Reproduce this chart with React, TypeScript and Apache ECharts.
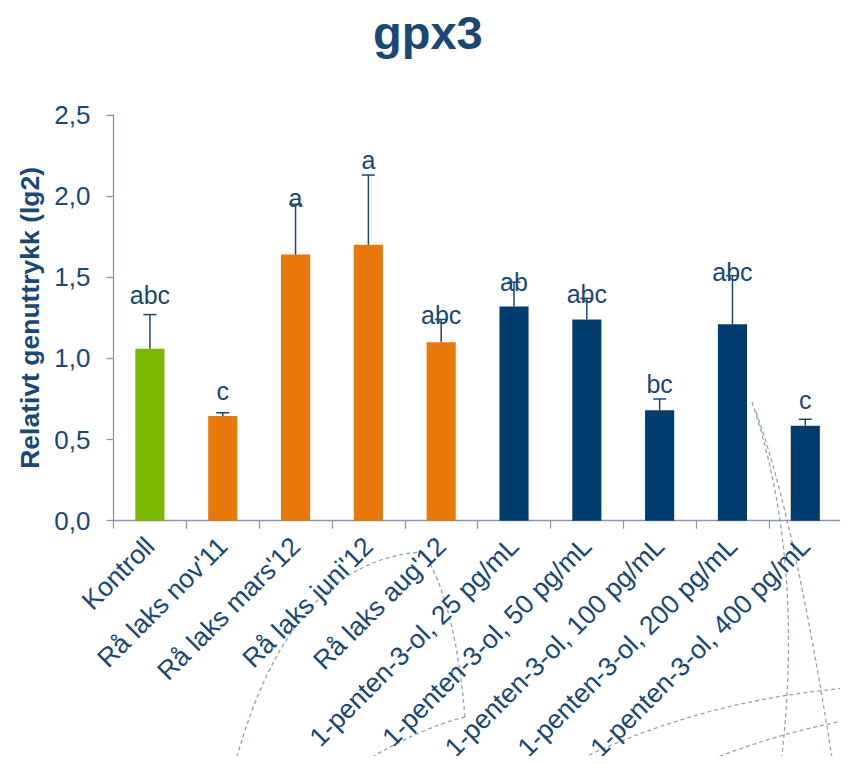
import React, { useEffect, useRef } from "react";
import * as echarts from "echarts";

const categories = [
  "Kontroll",
  "Rå laks nov'11",
  "Rå laks mars'12",
  "Rå laks juni'12",
  "Rå laks aug'12",
  "1-penten-3-ol, 25 pg/mL",
  "1-penten-3-ol, 50 pg/mL",
  "1-penten-3-ol, 100 pg/mL",
  "1-penten-3-ol, 200 pg/mL",
  "1-penten-3-ol, 400 pg/mL",
];
const groups = ["kontroll", "raa", "raa", "raa", "raa", "penten", "penten", "penten", "penten", "penten"];
const values = [1.06, 0.645, 1.64, 1.7, 1.1, 1.32, 1.24, 0.68, 1.21, 0.585];
const errors = [0.21, 0.02, 0.31, 0.43, 0.14, 0.15, 0.13, 0.07, 0.3, 0.04];
const letters = ["abc", "c", "a", "a", "abc", "ab", "abc", "bc", "abc", "c"];
const letterLevels = [1.39, 0.8, 1.99, 2.22, 1.27, 1.47, 1.4, 0.84, 1.535, 0.745];
const yTicks = [0, 0.5, 1.0, 1.5, 2.0, 2.5];

const TEXT = "#1a4876";
const FONT = "'Liberation Sans', Arial, sans-serif";
const groupColors: Record<string, string> = {
  kontroll: "#7ab800",
  raa: "#e8780a",
  penten: "#003d6f",
};

export default function App() {
  const ref = useRef<HTMLDivElement>(null);
  useEffect(() => {
    if (!ref.current) return;
    const chart = echarts.init(ref.current, null, { renderer: "svg" });
    const deco = "#8fa5b5";
    const dash = { stroke: deco, lineWidth: 1.3, lineDash: [4, 3], fill: null };
    chart.setOption({
      animation: false,
      backgroundColor: "#ffffff",
      title: {
        text: "gpx3",
        left: 368,
        top: 4,
        textStyle: { fontFamily: FONT, fontSize: 47, fontWeight: "bold", color: TEXT },
      },
      graphic: [
        { type: "bezierCurve", z: -10, silent: true, shape: { x1: 235, y1: 764, cpx1: 290, cpy1: 560, x2: 423, y2: 552 }, style: dash },
        { type: "bezierCurve", z: -10, silent: true, shape: { x1: 423, y1: 552, cpx1: 455, cpy1: 600, x2: 465, y2: 717 }, style: dash },
        { type: "bezierCurve", z: -10, silent: true, shape: { x1: 465, y1: 717, cpx1: 420, cpy1: 728, x2: 360, y2: 764 }, style: dash },
        { type: "bezierCurve", z: -10, silent: true, shape: { x1: 752, y1: 402, cpx1: 805, cpy1: 560, x2: 781, y2: 764 }, style: dash },
        { type: "bezierCurve", z: -10, silent: true, shape: { x1: 756, y1: 412, cpx1: 795, cpy1: 520, x2: 833, y2: 764 }, style: dash },
        { type: "bezierCurve", z: -10, silent: true, shape: { x1: 570, y1: 764, cpx1: 700, cpy1: 700, x2: 848, y2: 688 }, style: dash },
        { type: "bezierCurve", z: -10, silent: true, shape: { x1: 700, y1: 764, cpx1: 770, cpy1: 735, x2: 848, y2: 720 }, style: dash },
      ],
      grid: { left: 113.5, right: 6.3, top: 115, bottom: 243.3, containLabel: false, outerBoundsMode: "none" },
      xAxis: {
        type: "category",
        data: categories,
        boundaryGap: true,
        axisLine: { show: true, lineStyle: { color: "#8c96b0", width: 1.3 } },
        axisTick: { show: true, length: 8, interval: 0, alignWithLabel: false, lineStyle: { color: "#8c96b0", width: 1.3 } },
        axisLabel: {
          interval: 0,
          rotate: 45,
          margin: 21,
          fontFamily: FONT,
          fontSize: 26.5,
          color: TEXT,
        },
        splitLine: { show: false },
      },
      yAxis: {
        type: "value",
        min: 0,
        max: 2.5,
        interval: 0.5,
        name: "Relativt genuttrykk (lg2)",
        nameLocation: "middle",
        nameGap: 61,
        nameTextStyle: { fontFamily: FONT, fontSize: 26.5, fontWeight: "bold", color: TEXT },
        axisLine: { show: true, lineStyle: { color: "#8c96b0", width: 1.3 } },
        axisTick: { show: true, length: 7, lineStyle: { color: "#8c96b0", width: 1.3 } },
        axisLabel: {
          margin: 23,
          fontFamily: FONT,
          fontSize: 26,
          color: TEXT,
          formatter: (v: number) => {
            const t = yTicks.find((y) => Math.abs(y - v) < 1e-9);
            return (t ?? v).toFixed(1).replace(".", ",");
          },
        },
        splitLine: { show: false },
      },
      series: [
        {
          type: "bar",
          barWidth: "40%",
          data: values.map((v, i) => ({ value: v, itemStyle: { color: groupColors[groups[i]] } })),
        },
        {
          type: "custom",
          z: 5,
          data: values.map((v, i) => [i, v, v + errors[i], letterLevels[i]]),
          renderItem: (params: any, api: any) => {
            const i = api.value(0);
            const p0 = api.coord([i, api.value(1)]);
            const p1 = api.coord([i, api.value(2)]);
            const pl = api.coord([i, api.value(3)]);
            const stroke = "#1a4876";
            return {
              type: "group",
              children: [
                { type: "line", shape: { x1: p0[0], y1: p0[1], x2: p1[0], y2: p1[1] }, style: { stroke, lineWidth: 1.5 } },
                { type: "line", shape: { x1: p1[0] - 6.5, y1: p1[1], x2: p1[0] + 6.5, y2: p1[1] }, style: { stroke, lineWidth: 1.5 } },
                {
                  type: "text",
                  x: pl[0],
                  y: pl[1],
                  style: {
                    text: letters[params.dataIndex],
                    fill: TEXT,
                    fontFamily: FONT,
                    fontSize: 25,
                    align: "center",
                    verticalAlign: "middle",
                  },
                },
              ],
            };
          },
        },
      ],
    });
    return () => chart.dispose();
  }, []);
  return <div ref={ref} style={{ width: 848, height: 764, margin: -8 }} />;
}
